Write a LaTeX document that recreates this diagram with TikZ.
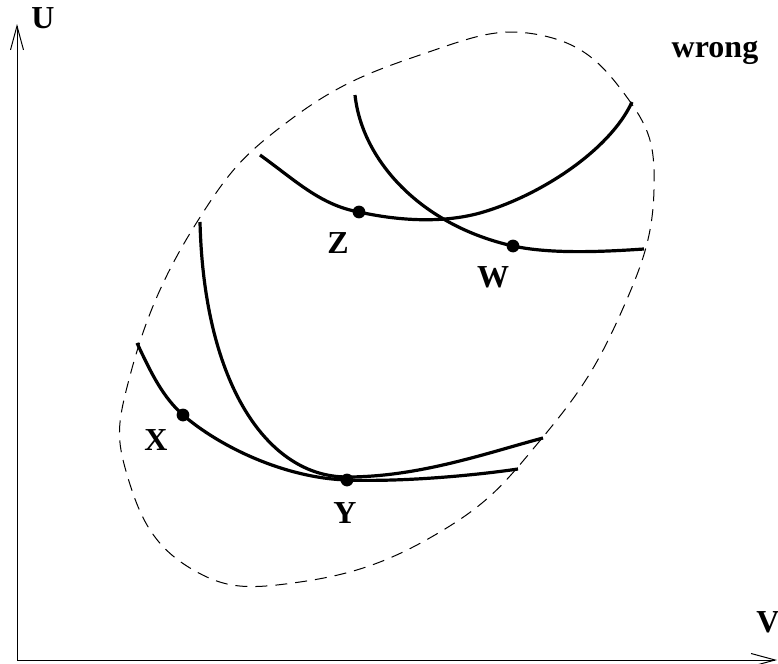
\documentclass[tikz,border=0pt]{standalone}
\usepackage{fontspec}
\setmainfont{Liberation Serif}
\usetikzlibrary{arrows.meta}
\begin{document}
\begin{tikzpicture}[x=0.5pt,y=-0.5pt,>={Straight Barb[length=12pt,width=6.5pt]},
  curve/.style={line width=1.6pt,line cap=butt},
  dot/.style={circle,fill,inner sep=0pt,minimum size=6.4pt},
  lbl/.style={font=\fontsize{16}{19}\selectfont\bfseries}]
 \useasboundingbox (0,0) rectangle (778,664);
 % axes
 \coordinate (o) at (17,660);
 \coordinate (utip) at (17,24);
 \coordinate (vtip) at (777,660);
 \draw[line width=0.5pt,->] (o)--(utip);
 \draw[line width=0.5pt,->] (o)--(vtip);
 \node[lbl] (ulab) at (43,18) {U};
 \node[lbl] (vlab) at (768,622) {V};
 \node[lbl] (wrong) at (715,53) {wrong};
 % dashed boundary
 \draw[line width=0.5pt,dash pattern=on 6pt off 4pt] plot[smooth cycle,tension=0.75] coordinates {
  (540,35) (626,96) (654,190) (620,315) (543,437) (440,532) (300,582)
  (190,568) (128,478) (131,372) (197,222) (290,120) (420,55)};
 % points
 \node[dot] (X) at (183,415) {};
 \node[dot] (Y) at (347,480) {};
 \node[dot] (Z) at (359,212) {};
 \node[dot] (W) at (513,246) {};
 % lower curves
 \draw[curve] (137,343) .. controls (152,375) and (163,397) .. (X.center)
  .. controls (220,447) and (285,478) .. (Y.center)
  .. controls (400,482) and (470,476) .. (518,469);
 \draw[curve] (200,222) .. controls (204,385) and (268,477) .. (347,477)
  .. controls (420,477) and (490,452) .. (543,438);
 % upper curves
 \draw[curve] (260,155) .. controls (295,180) and (320,205) .. (Z.center)
  .. controls (395,220) and (440,224) .. (480,213)
  .. controls (540,196) and (610,150) .. (632,102);
 \draw[curve] (355,95) .. controls (362,160) and (420,225) .. (W.center)
  .. controls (550,254) and (600,252) .. (644,249);
 % labels
 \node[lbl] (xlab) at (156,440) {X};
 \node[lbl] (ylab) at (345,513) {Y};
 \node[lbl] (zlab) at (338,243) {Z};
 \node[lbl] (wlab) at (493,277) {W};
\end{tikzpicture}
\end{document}
